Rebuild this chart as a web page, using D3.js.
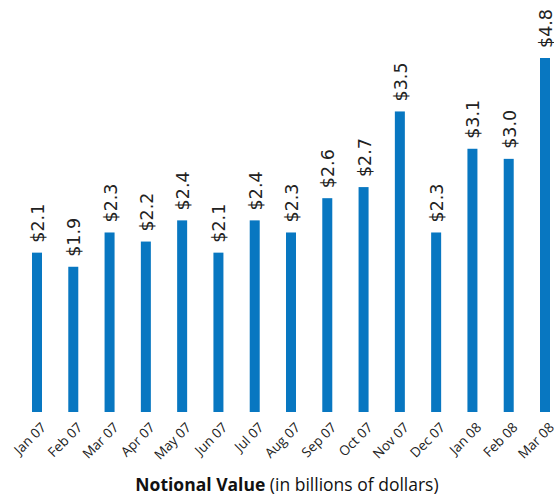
<!DOCTYPE html>
<html>
<head>
<meta charset="utf-8">
<script src="https://cdn.jsdelivr.net/npm/d3@7"></script>
<style>
  body { margin: 0; background: #fff; }
</style>
</head>
<body>
<div id="canvas"></div>
<script>
// months shown on the x axis
const months = ["Jan 07", "Feb 07", "Mar 07", "Apr 07", "May 07", "Jun 07", "Jul 07", "Aug 07",
  "Sep 07", "Oct 07", "Nov 07", "Dec 07", "Jan 08", "Feb 08", "Mar 08"];
// notional value, billions of dollars (labels round them)
const values = [2.08, 1.94, 2.28, 2.19, 2.40, 2.08, 2.40, 2.28, 2.62, 2.73, 3.48, 2.28, 3.11, 3.01, 4.8];

const data = months.map((m, i) => ({ month: m, value: values[i] }));

const width = 554;
const height = 496;
const baseY = 412;
const topY = 58;
const barW = 10;

const svg = d3.select("#canvas").append("svg")
  .attr("width", width)
  .attr("height", height);

const x = d3.scalePoint()
  .domain(months)
  .range([37, 545]);

// the original chart does not start at zero and the last bar is cut at the top
const y = d3.scaleLinear()
  .domain([0.5, 4.01])
  .range([baseY, topY])
  .clamp(true);

const fmt = d3.format("$.1f");

svg.selectAll("rect.bar").data(data)
  .enter().append("rect")
  .attr("class", "bar")
  .attr("x", d => x(d.month) - barW / 2)
  .attr("y", d => y(d.value))
  .attr("width", barW)
  .attr("height", d => baseY - y(d.value))
  .style("fill", "#0877c1");

// value labels, rotated upward above the bars
svg.selectAll("text.val").data(data)
  .enter().append("text")
  .attr("class", "val")
  .attr("transform", d => `translate(${x(d.month) + 7},${y(d.value) - 10}) rotate(-90)`)
  .style("font-family", "'DejaVu Sans', sans-serif")
  .style("font-size", "17.5px")
  .style("fill", "#222")
  .text(d => fmt(d.value));

// x axis without line or ticks
const xAxis = svg.append("g")
  .attr("transform", `translate(0,${baseY})`)
  .call(d3.axisBottom(x).tickSize(0).tickPadding(0));
xAxis.select(".domain").remove();
xAxis.selectAll("text")
  .attr("transform", "translate(6,13) rotate(-45)")
  .attr("dy", "0.35em")
  .style("text-anchor", "end")
  .style("font-family", "'Open Sans', sans-serif")
  .style("font-size", "13.5px")
  .style("fill", "#222");

const title = svg.append("text")
  .attr("x", 287)
  .attr("y", 491)
  .attr("text-anchor", "middle")
  .style("font-family", "'Open Sans', sans-serif")
  .style("font-size", "17.5px")
  .style("fill", "#111");
title.append("tspan").style("font-weight", "bold").text("Notional Value");
title.append("tspan").text(" (in billions of dollars)");
</script>
</body>
</html>
